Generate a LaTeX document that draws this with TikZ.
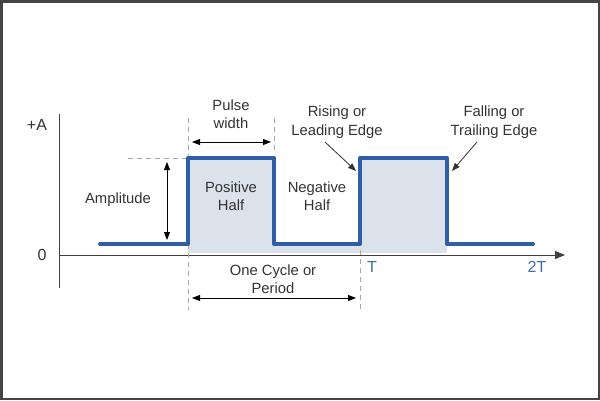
\documentclass[tikz,border=0pt]{standalone}
\usepackage{fontspec}
\setmainfont{Liberation Sans}
\usetikzlibrary{arrows.meta}
\definecolor{sig}{HTML}{2F5DA6}
\definecolor{fillc}{HTML}{DCE2EC}
\definecolor{txt}{HTML}{333333}
\definecolor{tlab}{HTML}{3A6CB4}
\definecolor{frame}{HTML}{444444}
\begin{document}
\begin{tikzpicture}[x=1pt,y=-1pt,
  lab/.style={font=\fontsize{14.8}{18.5}\selectfont, text=txt, align=center, inner sep=0pt},
  tl/.style={font=\fontsize{16}{18}\selectfont, text=tlab, inner sep=0pt},
  dim/.style={line width=0.9pt, {Triangle[length=8pt,width=6pt]}-{Triangle[length=8pt,width=6pt]}},
  ptr/.style={line width=0.8pt, black!80, -{Triangle[length=8pt,width=6pt]}},
  guide/.style={gray!70, line width=0.9pt, dash pattern=on 5pt off 4pt},
  wave/.style={sig, line width=4pt, line cap=round, line join=round}]
\useasboundingbox (0,0) rectangle (600,400);
\draw[frame, line width=2.5pt] (1.25,1.25) rectangle (598.75,398.75);
% fills
\fill[fillc] (188,158) rectangle (274,253);
\fill[fillc] (274,244) rectangle (360,253);
\fill[fillc] (360,158) rectangle (447,253);
% axes
\coordinate (o) at (59,255);
\coordinate (xe) at (565,255);
\coordinate (yt) at (59,114);
\coordinate (yb) at (59,288);
\draw[black!75, line width=0.9pt] (yt) -- (yb);
\draw[black!75, line width=0.9pt, -{Triangle[length=10pt,width=8pt]}] (o) -- (xe);
% guides
\draw[guide] (188,118) -- (188,310);
\draw[guide] (274,118) -- (274,152);
\draw[guide] (360,250) -- (360,312);
\draw[guide] (128,158) -- (186,158);
% waveform
\draw[wave] (100,244) -- (188,244) -- (188,158) -- (274,158) -- (274,244) -- (360,244) -- (360,158) -- (447,158) -- (447,244) -- (533,244);
% dimension arrows
\coordinate (pw1) at (192,142); \coordinate (pw2) at (271,142);
\draw[dim] (pw1) -- (pw2);
\coordinate (am1) at (167,162); \coordinate (am2) at (167,240);
\draw[dim] (am1) -- (am2);
\coordinate (cy1) at (192,298); \coordinate (cy2) at (356,298);
\draw[dim] (cy1) -- (cy2);
% pointers
\coordinate (r1) at (325,142); \coordinate (r2) at (356,171);
\draw[ptr] (r1) -- (r2);
\coordinate (f1) at (477,142); \coordinate (f2) at (452,171);
\draw[ptr] (f1) -- (f2);
% labels
\node[lab, font=\fontsize{16}{18}\selectfont] (pa) at (37,125) {+A};
\node[lab, font=\fontsize{16}{18}\selectfont] (z) at (42,255) {0};
\node[lab] (pw) at (231,114) {Pulse\\width};
\node[lab] (re) at (337,122) {Rising or\\Leading Edge};
\node[lab] (fe) at (494,122) {Falling or\\Trailing Edge};
\node[lab] (amp) at (118,200) {Amplitude};
\node[lab] (pos) at (231,196) {Positive\\Half};
\node[lab] (neg) at (317,196) {Negative\\Half};
\node[lab] (cyc) at (273,279) {One Cycle or\\Period};
\node[tl] (t1) at (372,267) {T};
\node[tl] (t2) at (537,267) {2T};
\end{tikzpicture}
\end{document}
